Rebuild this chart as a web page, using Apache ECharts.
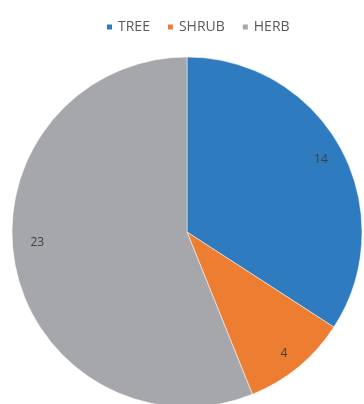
<!DOCTYPE html>
<html><head><meta charset="utf-8">
<script src="https://cdn.jsdelivr.net/npm/echarts@6/dist/echarts.min.js"></script>
<style>html,body{margin:0;padding:0;background:#fff}#c{width:364px;height:404px}</style>
</head><body><div id="c"></div>
<script>
const categories = ['TREE', 'SHRUB', 'HERB'];
const values = [14, 4, 23];
const colors = ['#2E7CBF', '#ED7D31', '#A5A7AA'];

const labelOffsets = [[0, 0], [0, 4], [0, -18]];
const data = categories.map((n, i) => ({ name: n, value: values[i], itemStyle: { color: colors[i] } }));
const chart = echarts.init(document.getElementById('c'));
chart.setOption({
  animation: false,
  legend: {
    top: 15, left: 100,
    itemWidth: 7, itemHeight: 7, itemGap: 16,
    icon: 'rect',
    textStyle: { fontFamily: 'Open Sans', fontSize: 14, color: '#595959', padding: [0, 0, 0, 0] },
    data: categories
  },
  series: [
    {
      type: 'pie', center: [187, 232], radius: [0, 175], startAngle: 90, clockwise: true,
      label: { show: false }, labelLine: { show: false },
      itemStyle: { borderColor: '#fff', borderWidth: 0.5 },
      data: data
    },
    {
      type: 'pie', center: [187, 232], radius: [124, 175], startAngle: 90, clockwise: true,
      silent: true, legendHoverLink: false,
      label: { show: true, position: 'inside', formatter: '{c}', fontFamily: 'Open Sans', fontSize: 12, color: '#404040' },
      labelLine: { show: false },
      data: categories.map((n, i) => ({ name: n, value: values[i], itemStyle: { color: 'transparent' }, label: { offset: labelOffsets[i] } }))
    }
  ]
});
</script></body></html>
